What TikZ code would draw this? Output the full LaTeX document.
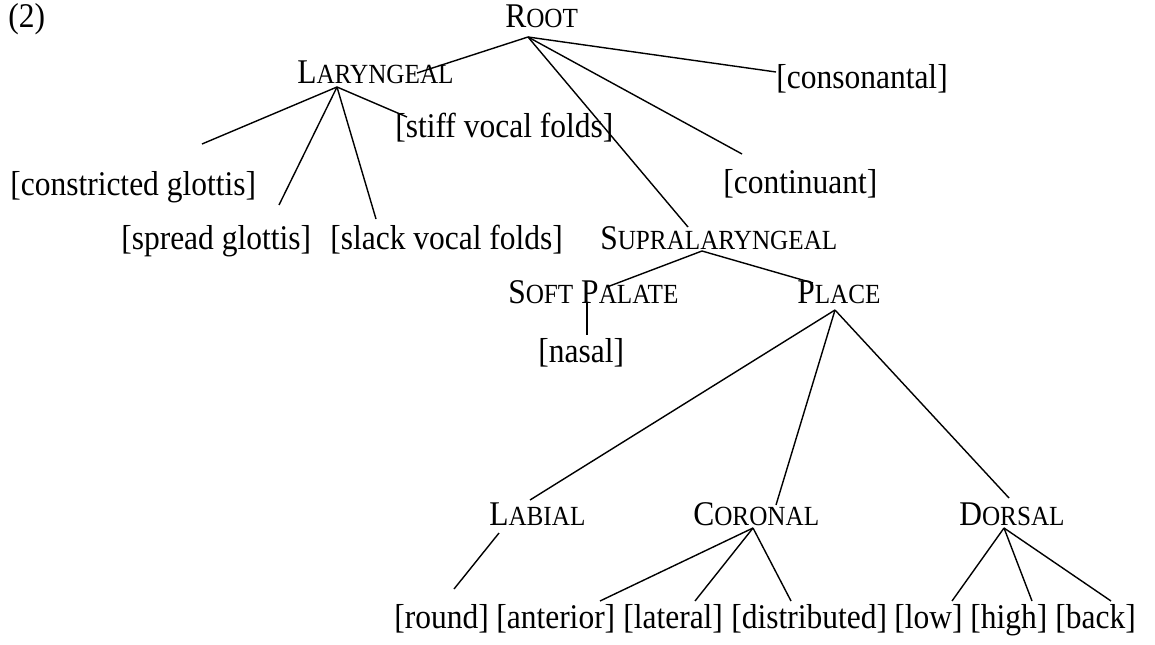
\documentclass[tikz,border=0pt]{standalone}
\usepackage{fontspec}
\setmainfont{Liberation Serif}
\usepackage{tikz}

\newcommand{\smcap}[2]{#1{\fontsize{17.9}{20}\selectfont #2}}
\tikzset{lab/.style = {anchor = base west, inner sep = 0pt, yscale = 1.1, font = \fontsize{22.4}{26}\selectfont}}
\tikzset{edge/.style = {line width = 1pt}}

\begin{document}
\begin{tikzpicture}[x = 0.025cm, y = -0.025cm]
\useasboundingbox (0,0) rectangle (1155,644);

% labels
\draw (8,28) node[name = num, lab]{(2)};
\draw (505,28) node[name = root, lab]{\smcap{R}{OOT}};
\draw (297,83) node[name = lar, lab]{\smcap{L}{ARYNGEAL}};
\draw (776,88) node[name = cons, lab]{[consonantal]};
\draw (395,137) node[name = stiff, lab]{[stiff vocal folds]};
\draw (10,195) node[name = constr, lab]{[constricted glottis]};
\draw (723,193) node[name = cont, lab]{[continuant]};
\draw (121,249) node[name = spread, lab]{[spread glottis]};
\draw (330,249) node[name = slack, lab]{[slack vocal folds]};
\draw (600,249) node[name = supra, lab]{\smcap{S}{UPRALARYNGEAL}};
\draw (508,303) node[name = soft, lab]{\smcap{S}{OFT} \smcap{P}{ALATE}};
\draw (797,303) node[name = place, lab]{\smcap{P}{LACE}};
\draw (538,362) node[name = nasal, lab]{[nasal]};
\draw (489,525) node[name = lab, lab]{\smcap{L}{ABIAL}};
\draw (693,525) node[name = cor, lab]{\smcap{C}{ORONAL}};
\draw (959,525) node[name = dor, lab]{\smcap{D}{ORSAL}};
\draw (394,628) node[name = round, lab]{[round]};
\draw (496,628) node[name = ant, lab]{[anterior]};
\draw (623,628) node[name = lat, lab]{[lateral]};
\draw (731,628) node[name = dist, lab]{[distributed]};
\draw (894,628) node[name = low, lab]{[low]};
\draw (970,628) node[name = high, lab]{[high]};
\draw (1055,628) node[name = back, lab]{[back]};

% line ends
\coordinate (rootdn) at (528,37);
\coordinate (larup) at (417,73);
\coordinate (lardn) at (337,87);
\coordinate (consup) at (776,72);
\coordinate (stiffup) at (407,117);
\coordinate (construp) at (202,144);
\coordinate (spreadup) at (279,205);
\coordinate (slackup) at (376,219);
\coordinate (contup) at (742,154);
\coordinate (supraup) at (688,227);
\coordinate (supradn) at (702,251);
\coordinate (softup) at (607,287);
\coordinate (softdn) at (587,303);
\coordinate (nasalup) at (587,335);
\coordinate (placeup) at (813,283);
\coordinate (placedn) at (835,310);
\coordinate (labup) at (530,500);
\coordinate (labdn) at (499,533);
\coordinate (corup) at (776,505);
\coordinate (cordn) at (753,528);
\coordinate (dorup) at (1009,498);
\coordinate (dordn) at (1004,528);
\coordinate (roundup) at (454,589);
\coordinate (antup) at (600,601);
\coordinate (latup) at (695,601);
\coordinate (distup) at (791,601);
\coordinate (lowup) at (952,601);
\coordinate (highup) at (1032,601);
\coordinate (backup) at (1111,601);

\draw[edge] (rootdn) -- (larup);
\draw[edge] (rootdn) -- (consup);
\draw[edge] (rootdn) -- (contup);
\draw[edge] (rootdn) -- (supraup);

\draw[edge] (lardn) -- (construp);
\draw[edge] (lardn) -- (spreadup);
\draw[edge] (lardn) -- (slackup);
\draw[edge] (lardn) -- (stiffup);

\draw[edge] (supradn) -- (softup);
\draw[edge] (supradn) -- (placeup);
\draw[edge] (softdn) -- (nasalup);

\draw[edge] (placedn) -- (labup);
\draw[edge] (placedn) -- (corup);
\draw[edge] (placedn) -- (dorup);

\draw[edge] (labdn) -- (roundup);
\draw[edge] (cordn) -- (antup);
\draw[edge] (cordn) -- (latup);
\draw[edge] (cordn) -- (distup);
\draw[edge] (dordn) -- (lowup);
\draw[edge] (dordn) -- (highup);
\draw[edge] (dordn) -- (backup);

\end{tikzpicture}
\end{document}
